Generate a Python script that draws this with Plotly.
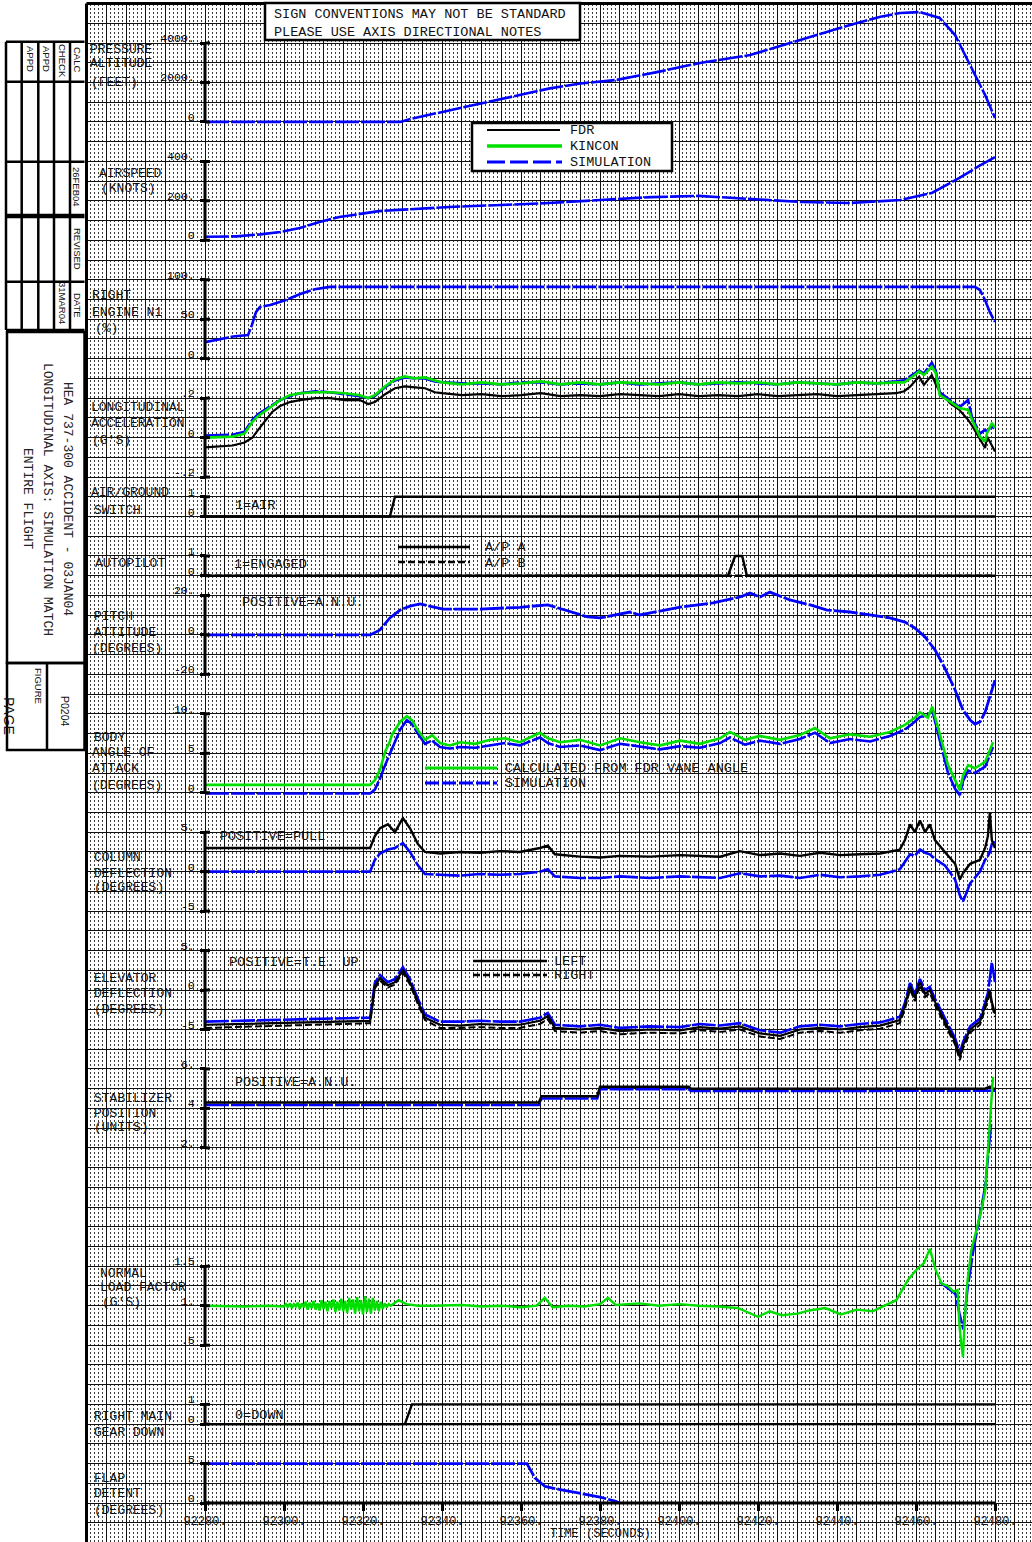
import plotly.graph_objects as go

W, H = 1032, 1542

# ---------------- data (time in seconds, values in engineering units) ----------------
ALT_T = [92280, 92329.4, 92332, 92340, 92350.4, 92360, 92367.3, 92375, 92384.3, 92395, 92405.3,
         92418, 92430.6, 92443.3, 92451, 92456, 92461, 92466, 92469.9, 92473.7, 92477.5, 92480]
ALT_SIM = [0, 0, 150, 500, 970, 1400, 1700, 1950, 2130, 2550, 2990,
           3390, 4150, 4910, 5330, 5520, 5570, 5270, 4400, 2880, 1360, 200]

SPD_T = [92280, 92288, 92294, 92299, 92304, 92309, 92314, 92319, 92324, 92329, 92342, 92355,
         92367, 92380, 92393, 92405, 92418, 92431, 92443, 92456, 92464, 92471, 92476, 92480]
SPD_SIM = [18, 20, 30, 42, 62, 93, 118, 133, 148, 154, 169, 179,
           189, 204, 219, 225, 209, 194, 189, 204, 240, 316, 377, 422]

N1_T = [92280, 92287.1, 92290.9, 92291.9, 92292.9, 92293.9, 92296.5, 92300.3, 92304.1, 92307.8,
        92311.6, 92474.9, 92476.2, 92477.5, 92478.7, 92480]
N1_SIM = [21, 28, 30, 43, 59, 65.5, 68, 74, 82, 88, 91, 91, 87, 74, 59, 46.5]

ACC_T = [92280, 92287, 92290, 92292, 92293.5, 92295, 92297, 92299, 92301.5, 92304,
         92308, 92311.6, 92315.4, 92319.2, 92321.3, 92323, 92325.6, 92328.1, 92330.6, 92333.2,
         92335.7, 92338.2, 92340, 92345, 92350, 92355, 92360, 92365, 92370, 92375,
         92380, 92385, 92390, 92395, 92400, 92405, 92410, 92415, 92420, 92425,
         92430, 92435, 92440, 92445, 92450, 92455, 92457, 92458.5, 92460.8, 92462,
         92464, 92465, 92466, 92468.6, 92471, 92473.2, 92474.2, 92476.2, 92477.5, 92478,
         92479.2, 92480]
ACC_FDR = [-0.05, -0.04, -0.025, 0.0, 0.04, 0.08, 0.13, 0.16, 0.18, 0.19,
           0.20, 0.20, 0.19, 0.19, 0.17, 0.18, 0.22, 0.25, 0.26, 0.255,
           0.25, 0.23, 0.225, 0.215, 0.22, 0.21, 0.215, 0.225, 0.21, 0.215,
           0.21, 0.22, 0.215, 0.21, 0.22, 0.21, 0.215, 0.21, 0.22, 0.21,
           0.215, 0.22, 0.21, 0.215, 0.22, 0.225, 0.235, 0.258, 0.309, 0.267,
           0.317, 0.27, 0.233, 0.175, 0.14, 0.09, 0.06, -0.012, -0.053, 0.005,
           -0.04, -0.071]
ACC_KIN = [0.0, 0.005, 0.02, 0.08, 0.11, 0.13, 0.16, 0.19, 0.215, 0.225,
           0.23, 0.23, 0.225, 0.215, 0.20, 0.215, 0.26, 0.295, 0.31, 0.30,
           0.305, 0.29, 0.28, 0.27, 0.28, 0.27, 0.275, 0.285, 0.27, 0.28,
           0.27, 0.28, 0.275, 0.27, 0.28, 0.27, 0.28, 0.275, 0.28, 0.27,
           0.28, 0.275, 0.27, 0.28, 0.275, 0.28, 0.28, 0.30, 0.335, 0.317,
           0.36, 0.327, 0.216, 0.182, 0.15, 0.14, 0.089, 0.005, -0.02, 0.023,
           0.074, 0.05]
ACC_SIM = [0.01, 0.015, 0.03, 0.09, 0.12, 0.14, 0.165, 0.19, 0.21, 0.225,
           0.235, 0.23, 0.22, 0.21, 0.20, 0.21, 0.255, 0.29, 0.305, 0.30,
           0.30, 0.285, 0.28, 0.275, 0.275, 0.27, 0.28, 0.28, 0.27, 0.275,
           0.27, 0.28, 0.27, 0.275, 0.28, 0.27, 0.275, 0.28, 0.275, 0.27,
           0.28, 0.275, 0.27, 0.28, 0.275, 0.285, 0.29, 0.31, 0.34, 0.325,
           0.38, 0.34, 0.23, 0.19, 0.155, 0.19, 0.10, 0.02, 0.04, 0.03,
           0.06, 0.04]

AG_T = [92280, 92326.8, 92328.1, 92480]
AG_FDR = [0, 0, 1, 1]

APA_T = [92280, 92412.4, 92414.2, 92416.0, 92417.2, 92480]
APA_FDR = [0, 0, 1, 1, 0, 0]
APB_T = [92280, 92480]
APB_FDR = [0, 0]

PITCH_T = [92280, 92321.8, 92324.3, 92326.8, 92329.4, 92331.9, 92334.4, 92340.3, 92349.6, 92359.7,
           92366.8, 92376.9, 92380, 92387.6, 92390.1, 92400.3, 92408.6, 92415.4, 92418, 92420.5,
           92423, 92428.1, 92433.2, 92437.5, 92443.3, 92448.4, 92453.4, 92457.2, 92459.7, 92462.3,
           92464.8, 92467.3, 92469.9, 92471.9, 92473.7, 92474.9, 92476.2, 92477.5, 92478.7, 92480]
PITCH_SIM = [0, 0, 2.5, 8.6, 12.6, 14.6, 15.7, 13.1, 13.1, 14.0,
             15.2, 9.1, 8.6, 11.6, 10.1, 14.1, 16.2, 19.2, 21.2, 19.2,
             21.7, 17.7, 15.2, 12.6, 11.6, 10.1, 8.6, 6.5, 3.5, -1.1,
             -7.6, -16.8, -27.9, -38.1, -43.1, -45.2, -44.1, -39.1, -31.5, -22.9]

AOA_T = [92280, 92321.8, 92323, 92324.3, 92325.6, 92326.8, 92327.3, 92329.4, 92331.1, 92332.4,
         92333.9, 92335.7, 92337.5, 92339.5, 92342, 92344.6, 92348.4, 92352.2, 92355.9, 92359.7,
         92364.8, 92366.8, 92369.9, 92374.9, 92380, 92385.1, 92390.1, 92395.2, 92400.3, 92405.3,
         92410.4, 92412.9, 92416.7, 92420.5, 92425.6, 92430.6, 92434.4, 92438.2, 92443.3, 92448.4,
         92453.4, 92457.2, 92459.7, 92461, 92463, 92464.1, 92466.1, 92468.1, 92469.9, 92471.1,
         92471.9, 92473.2, 92474.9, 92477.5, 92479.5]
AOA_KIN = [1.0, 1.0, 1.6, 2.9, 5.2, 6.5, 7.3, 9.0, 9.7, 9.2,
           7.9, 6.7, 7.3, 6.3, 6.0, 6.4, 6.2, 6.7, 6.9, 6.4,
           7.6, 6.9, 6.4, 6.7, 6.0, 6.9, 6.4, 6.0, 6.6, 6.2,
           6.9, 7.7, 6.7, 7.2, 6.7, 7.3, 8.2, 6.9, 7.4, 7.1,
           7.7, 8.6, 9.5, 10.2, 9.5, 10.9, 7.3, 3.5, 1.6, 0.3,
           2.2, 3.5, 3.1, 3.9, 6.4]
AOA_SIM = [-0.1, -0.1, 0.4, 1.8, 3.5, 5.0, 5.6, 8.0, 9.2, 8.7,
           7.5, 6.2, 6.6, 5.8, 5.6, 5.8, 5.7, 6.0, 6.3, 6.0,
           7.0, 6.3, 5.8, 6.0, 5.4, 6.2, 5.9, 5.5, 5.9, 5.7,
           6.3, 7.0, 6.1, 6.6, 6.2, 6.8, 7.6, 6.3, 6.8, 6.5,
           7.2, 8.0, 9.0, 9.6, 9.8, 10.5, 6.5, 2.5, 0.5, -0.3,
           1.5, 2.8, 2.5, 3.3, 5.8]

COL_T = [92280, 92321.8, 92323.0, 92324.3, 92326.3, 92328.1, 92330.1, 92331.9, 92333.9, 92335.7,
         92339.5, 92344.6, 92349.6, 92354.7, 92359.7, 92364.8, 92366.8, 92368.6, 92374.9, 92380.0,
         92385.1, 92392.7, 92400.3, 92405.3, 92410.4, 92415.4, 92420.5, 92425.6, 92430.6, 92435.7,
         92440.8, 92445.8, 92450.9, 92455.9, 92457.2, 92458.5, 92459.7, 92461.0, 92462.3, 92463.5,
         92464.8, 92467.3, 92469.9, 92471.1, 92471.9, 92473.7, 92476.2, 92477.5, 92478.2, 92478.7,
         92479.2, 92480.0]
COL_FDR = [3.0, 3.0, 4.5, 5.5, 6.0, 5.0, 6.8, 5.5, 3.5, 2.5,
           2.3, 2.5, 2.4, 2.6, 2.5, 3.0, 3.3, 2.2, 1.9, 1.8,
           2.0, 1.9, 2.1, 2.0, 1.9, 2.6, 2.1, 2.3, 2.0, 2.4,
           2.1, 2.2, 2.3, 2.8, 4.0, 6.0, 5.0, 6.5, 5.0, 6.0,
           4.0, 2.5, 1.0, -1.0, -0.2, 1.0, 1.5, 3.0, 4.5, 7.5,
           4.0, 3.0]
COL_SIM = [0.0, 0.0, 1.5, 2.3, 2.8, 3.0, 3.6, 2.5, 0.8, -0.3,
           -0.4, -0.5, -0.3, -0.4, -0.3, 0.0, 0.3, -0.6, -0.8, -0.8,
           -0.6, -0.8, -0.6, -0.7, -0.8, -0.2, -0.6, -0.5, -0.8, -0.4,
           -0.7, -0.6, -0.4, 0.3, 1.2, 2.2, 2.0, 2.8, 2.4, 2.2,
           1.6, 0.8, -1.0, -3.0, -3.8, -1.5, 0.0, 1.5, 2.0, 2.5,
           3.5, 3.8]

ELEV_T = COL_T
ELEV_LEFT = [-4.4, -3.9, 0.5, 1.5, 0.6, 1.0, 2.5, 1.0, -1.5, -3.5,
             -4.4, -4.5, -4.3, -4.4, -4.4, -3.9, -3.3, -4.8, -5.0, -4.8,
             -5.2, -5.0, -5.1, -4.7, -4.9, -4.6, -5.5, -5.8, -5.0, -4.8,
             -5.0, -4.7, -4.5, -3.8, -2.0, 0.5, -1.0, 1.0, -0.5, 0.0,
             -1.5, -4.0, -6.5, -8.5, -7.0, -5.0, -4.0, -2.0, -1.0, 0.0,
             -1.5, -3.0]
ELEV_RIGHT = [-4.8, -4.2, 0.2, 1.2, 0.3, 0.7, 2.2, 0.7, -1.8, -3.8,
              -4.8, -4.8, -4.7, -4.8, -4.8, -4.3, -3.7, -5.2, -5.4, -5.2,
              -5.6, -5.4, -5.5, -5.1, -5.3, -5.0, -5.9, -6.2, -5.4, -5.2,
              -5.4, -5.1, -4.9, -4.2, -2.4, 0.1, -1.4, 0.6, -0.9, -0.4,
              -1.9, -4.4, -6.9, -8.9, -7.4, -5.4, -4.4, -2.4, -1.4, -0.4,
              -1.9, -3.4]
ELEV_SIM = [-4.0, -3.5, 0.9, 1.9, 1.0, 1.4, 2.9, 1.4, -1.1, -3.1,
            -4.0, -4.0, -3.9, -4.0, -4.0, -3.5, -2.9, -4.4, -4.6, -4.4,
            -4.8, -4.6, -4.7, -4.3, -4.5, -4.2, -5.1, -5.4, -4.6, -4.4,
            -4.6, -4.3, -4.1, -3.4, -1.6, 0.9, -0.6, 1.4, 0.0, 0.4,
            -1.1, -3.6, -6.1, -8.0, -6.6, -4.6, -3.6, -1.6, -0.4, 1.5,
            3.5, 1.0]

STAB_T = [92280, 92364.5, 92365.2, 92379.3, 92380, 92402.5, 92403, 92477.5, 92478.7, 92479.5, 92480]
STAB_FDR = [4.3, 4.3, 4.62, 4.62, 5.1, 5.1, 5.0, 5.0, 5.1, 5.0, 5.0]
STAB_SIM = [4.17, 4.17, 4.5, 4.5, 4.98, 4.98, 4.88, 4.88, 4.9, 4.9, 4.9]

NLF_T = [92280, 92290, 92296,
         92300, 92300.5, 92301, 92301.5, 92302, 92302.5, 92303, 92303.5, 92304, 92304.5,
         92305, 92305.5, 92306, 92306.5, 92307, 92307.5, 92308, 92308.5, 92309, 92309.5,
         92310, 92310.5, 92311, 92311.5, 92312, 92312.5, 92313, 92313.5, 92314, 92314.5,
         92315, 92315.5, 92316, 92316.5, 92317, 92317.5, 92318, 92318.5, 92319, 92319.5,
         92320, 92320.5, 92321, 92321.5, 92322, 92322.5, 92323, 92323.5, 92324, 92324.5,
         92325, 92325.5, 92326, 92326.5, 92327,
         92329, 92331, 92334, 92338, 92345, 92350, 92355, 92360, 92364, 92366,
         92368, 92372, 92376, 92380, 92382, 92384, 92390, 92395, 92400, 92405,
         92410, 92415, 92420, 92423, 92426, 92430, 92433, 92437, 92441, 92445,
         92449, 92452, 92455, 92458, 92460, 92462, 92463.5, 92465, 92466.5, 92468,
         92469.5, 92470.5, 92471, 92471.5, 92471.9, 92472.3, 92473, 92474, 92475, 92476.5,
         92477.5, 92478.5, 92479.5]
NLF_KIN = [1.00, 0.99, 1.00,
           0.99, 1.02, 0.98, 1.03, 0.97, 1.02, 0.99, 1.04, 0.96, 1.03,
           0.98, 1.05, 0.95, 1.04, 0.97, 1.06, 0.95, 1.03, 0.94, 1.07,
           0.96, 1.05, 0.93, 1.06, 0.97, 1.08, 0.92, 1.05, 0.94, 1.09,
           0.93, 1.06, 0.91, 1.10, 0.95, 1.08, 0.90, 1.11, 0.93, 1.07,
           0.89, 1.12, 0.92, 1.09, 0.90, 1.10, 0.94, 1.06, 0.93, 1.05,
           0.96, 1.03, 0.98, 1.02, 1.00,
           1.07, 1.02, 1.00, 1.00, 1.01, 0.99, 1.00, 0.98, 1.00, 1.10,
           0.98, 1.00, 0.99, 1.02, 1.10, 1.01, 1.03, 1.00, 1.02, 1.00,
           0.99, 0.97, 0.86, 0.93, 0.88, 0.90, 0.94, 0.97, 0.89, 0.95,
           0.93, 1.00, 1.07, 1.33, 1.45, 1.54, 1.72, 1.45, 1.28, 1.25,
           1.18, 1.20, 0.75, 0.50, 0.35, 0.80, 1.30, 1.70, 1.90, 2.20,
           2.45, 3.20, 3.90]
NLF_SIM_T = [92466, 92468, 92470, 92471, 92472, 92473, 92474.5, 92476, 92477.5, 92479]
NLF_SIM = [1.30, 1.22, 1.15, 0.90, 0.70, 1.20, 1.70, 2.10, 2.50, 3.30]

GEAR_T = [92280, 92330.6, 92332.4, 92480]
GEAR_FDR = [0, 0, 1, 1]

FLAP_T = [92280, 92361.5, 92363.5, 92366.1, 92369.9, 92374.9, 92380, 92383.8, 92385.1]
FLAP_SIM = [5, 5, 3.2, 2.1, 1.7, 1.2, 0.75, 0.25, 0]

TIME_TICKS = [92280, 92300, 92320, 92340, 92360, 92380, 92400, 92420, 92440, 92460, 92480]
TIME_LABELS = [f"{t}." for t in TIME_TICKS]

# panel: axis id, top value, top grid row, bottom value, bottom grid row, tick values, tick labels
PANELS = [
    ("y2", 4000, 0, 0, 4, [0, 2000, 4000], ["0", "2000.", "4000."]),
    ("y3", 400, 6, 0, 10, [0, 200, 400], ["0", "200.", "400."]),
    ("y4", 100, 12, 0, 16, [0, 50, 100], ["0", "50", "100."]),
    ("y5", 0.2, 18, -0.2, 22, [-0.2, 0, 0.2], ["-.2", "0", ".2"]),
    ("y6", 1, 23, 0, 24, [0, 1], ["0", "1"]),
    ("y7", 1, 26, 0, 27, [0, 1], ["0", "1"]),
    ("y8", 20, 28, -20, 32, [-20, 0, 20], ["-20", "0", "20."]),
    ("y9", 10, 34, 0, 38, [0, 5, 10], ["0", "5", "10."]),
    ("y10", 5, 40, -5, 44, [-5, 0, 5], ["-5", "0", "5."]),
    ("y11", 5, 46, -5, 50, [-5, 0, 5], ["-5", "0", "5."]),
    ("y12", 6, 52, 2, 56, [2, 4, 6], ["2.", "4", "6."]),
    ("y13", 1.5, 62, 0.5, 66, [0.5, 1, 1.5], [".5", "1.", "1.5"]),
    ("y14", 1, 69, 0, 70, [0, 1], ["0", "1"]),
    ("y15", 5, 72, 0, 74, [0, 5], ["0", "5"]),
]

# ---------------- geometry of the chart paper ----------------
T0 = 92280.0
PX_PER_S = 3.95
AX_X = 205.0
GRID_X0 = 86.5
CELL = 19.73
GRID_Y0 = 43.0 - 2 * CELL
V_TOP = 2.0
V_BOT = V_TOP - (H - GRID_Y0) / CELL
X_RANGE = [T0 - (AX_X - GRID_X0) / PX_PER_S, T0 + (W - AX_X) / PX_PER_S]

BLUE = "#0000ff"
GREEN = "#00e000"
BLACK = "#000000"
SIMDASH = "24px,2px"
MONO = "Liberation Mono"
SANS = "Liberation Sans"


def px(x):
    return x / W


def py(y):
    return 1 - y / H


fig = go.Figure()
# empty trace so the base grid subplot exists
fig.add_trace(go.Scatter(x=[], y=[], xaxis="x", yaxis="y", showlegend=False, hoverinfo="skip"))


def add(t, v, yax, color, width, dash=None, xax="x"):
    fig.add_trace(go.Scatter(x=t, y=v, xaxis=xax, yaxis=yax, mode="lines", showlegend=False,
                             line=dict(color=color, width=width, dash=dash), hoverinfo="skip"))


add(ALT_T, ALT_SIM, "y2", BLUE, 2.6, SIMDASH)
add(SPD_T, SPD_SIM, "y3", BLUE, 2.6, SIMDASH)
add(N1_T, N1_SIM, "y4", BLUE, 2.6, SIMDASH)
add(ACC_T, ACC_FDR, "y5", BLACK, 2.2)
add(ACC_T, ACC_SIM, "y5", BLUE, 2.6, SIMDASH)
add(ACC_T, ACC_KIN, "y5", GREEN, 2.6)
add(AG_T, AG_FDR, "y6", BLACK, 2.4)
add(APB_T, APB_FDR, "y7", BLACK, 2.4, "7px,3px")
add(APA_T, APA_FDR, "y7", BLACK, 2.4)
add(PITCH_T, PITCH_SIM, "y8", BLUE, 2.8, SIMDASH)
add(AOA_T, AOA_SIM, "y9", BLUE, 2.6, SIMDASH)
add(AOA_T, AOA_KIN, "y9", GREEN, 2.6)
add(COL_T, COL_SIM, "y10", BLUE, 2.6, SIMDASH)
add(COL_T, COL_FDR, "y10", BLACK, 2.4)
add(ELEV_T, ELEV_SIM, "y11", BLUE, 2.6, SIMDASH)
add(ELEV_T, ELEV_RIGHT, "y11", BLACK, 2.0, "7px,3px")
add(ELEV_T, ELEV_LEFT, "y11", BLACK, 2.2)
add(STAB_T, STAB_SIM, "y12", BLUE, 2.6, SIMDASH)
add(STAB_T, STAB_FDR, "y12", BLACK, 2.4)
add(NLF_SIM_T, NLF_SIM, "y13", BLUE, 2.6, SIMDASH)
add(NLF_T, NLF_KIN, "y13", GREEN, 2.4)
add(GEAR_T, GEAR_FDR, "y14", BLACK, 2.4)
add(FLAP_T, FLAP_SIM, "y15", BLUE, 2.8, SIMDASH, xax="x2")

layout = dict(
    width=W, height=H, margin=dict(l=0, r=0, t=0, b=0),
    paper_bgcolor="white", plot_bgcolor="white", showlegend=False,
    xaxis=dict(domain=[px(GRID_X0), 1], range=X_RANGE, tick0=T0, dtick=5,
               showgrid=True, gridcolor="#111111", gridwidth=1, zeroline=False,
               showticklabels=False, ticks="", showline=False, fixedrange=True,
               minor=dict(tick0=T0, dtick=1, showgrid=True, gridcolor="#3c3c3c",
                          griddash="2px,2px", gridwidth=1)),
    yaxis=dict(domain=[0, py(GRID_Y0)], range=[V_BOT, V_TOP], tick0=0, dtick=1,
               showgrid=True, gridcolor="#111111", gridwidth=1, zeroline=False,
               showticklabels=False, ticks="", showline=False, fixedrange=True),
    xaxis2=dict(overlaying="x", anchor="free", position=py(74 * CELL + 43.0),
                range=X_RANGE, tickmode="array", tickvals=TIME_TICKS, ticktext=TIME_LABELS,
                ticks="outside", ticklen=7, tickwidth=3, tickcolor=BLACK,
                showgrid=False, zeroline=False, showline=False, fixedrange=True,
                tickfont=dict(family=MONO, size=12, color="#111")),
)

shapes = []


def hline(x0, x1, y, w=2.5, color=BLACK, dash=None):
    shapes.append(dict(type="line", xref="paper", yref="paper", x0=px(x0), x1=px(x1),
                       y0=py(y), y1=py(y), line=dict(color=color, width=w, dash=dash)))


def vline(x, y0, y1, w=2.5, color=BLACK):
    shapes.append(dict(type="line", xref="paper", yref="paper", x0=px(x), x1=px(x),
                       y0=py(y0), y1=py(y1), line=dict(color=color, width=w)))


for (ax, vt, kt, vb, kb, tv, tt) in PANELS:
    slope = (vt - vb) / (kb - kt)
    rng = [vb + (V_BOT + kb) * slope, vb + (V_TOP + kb) * slope]
    layout["yaxis" + ax[1:]] = dict(
        overlaying="y", anchor="free", position=px(AX_X), side="left", range=rng,
        showgrid=False, zeroline=False, showline=False, fixedrange=True,
        tickmode="array", tickvals=tv, ticktext=tt, ticks="outside", ticklen=5,
        tickwidth=3, tickcolor=BLACK, ticklabelshift=-5, ticklabelstandoff=3,
        tickfont=dict(family=MONO, size=11.5, color="#000"))
    # axis spine between the end ticks and the inner half of each tick
    shapes.append(dict(type="line", xref="paper", yref=ax, x0=px(AX_X), x1=px(AX_X),
                       y0=min(tv), y1=max(tv), line=dict(color=BLACK, width=3)))
    for v in tv:
        shapes.append(dict(type="line", xref="paper", yref=ax, x0=px(AX_X), x1=px(AX_X + 5),
                           y0=v, y1=v, line=dict(color=BLACK, width=3)))

# baselines / time axis
for ax in ("y6", "y14"):
    shapes.append(dict(type="line", xref="x", yref=ax, x0=92280, x1=92480, y0=0, y1=0,
                       line=dict(color=BLACK, width=2.4)))
shapes.append(dict(type="line", xref="x", yref="y15", x0=92280, x1=92480, y0=0, y1=0,
                   line=dict(color=BLACK, width=3)))

# chart paper border
vline(GRID_X0, GRID_Y0, H, w=3)
hline(GRID_X0, W, GRID_Y0, w=3)

# title block on the left
for y in (41.7, 81.7, 161.7, 281.7, 330):
    hline(6, 84.5, y)
hline(6, 84.5, 216, w=4.5)
for x in (6, 21.7, 38.3, 54, 70):
    vline(x, 41.7, 330)
shapes.append(dict(type="rect", xref="paper", yref="paper", x0=px(7), x1=px(84.5),
                   y0=py(332), y1=py(663), line=dict(color=BLACK, width=2.5)))
shapes.append(dict(type="rect", xref="paper", yref="paper", x0=px(7), x1=px(84.5),
                   y0=py(663), y1=py(750), line=dict(color=BLACK, width=2.5)))
vline(47, 663, 750)

# boxes
shapes.append(dict(type="rect", xref="paper", yref="paper", x0=px(265), x1=px(580),
                   y0=py(3), y1=py(40), fillcolor="white", line=dict(color=BLACK, width=2.5)))
shapes.append(dict(type="rect", xref="paper", yref="paper", x0=px(472), x1=px(672),
                   y0=py(123), y1=py(171), fillcolor="white", line=dict(color=BLACK, width=2.5)))

# legend samples
hline(487, 560, 130, w=2.2)
hline(487, 562, 146, w=3.5, color=GREEN)
hline(487, 562, 162, w=3, color=BLUE, dash="18px,5px")
hline(398, 470, 547, w=2.5)
hline(398, 470, 562, w=2.5, dash="7px,3px")
hline(425, 497, 768, w=3, color=GREEN)
hline(425, 497, 783, w=3, color=BLUE, dash="14px,3px")
hline(473, 547, 961, w=2.5)
hline(473, 547, 975, w=2.5, dash="7px,3px")

annotations = []


def text(s, x, y, size=13.5, family=MONO, anchor="left", angle=0, color="#111"):
    annotations.append(dict(text=s, x=px(x), y=py(y), xref="paper", yref="paper",
                            xanchor=anchor, yanchor="middle", showarrow=False, textangle=angle,
                            font=dict(family=family, size=size, color=color)))


LABELS = [
    ("PRESSURE", 88, 50), ("ALTITUDE", 88, 64), ("(FEET)", 89, 82),
    ("AIRSPEED", 97, 173), ("(KNOTS)", 99, 188),
    ("RIGHT", 90, 295), ("ENGINE N1", 90, 313), ("(%)", 93, 328),
    ("LONGITUDINAL", 89, 408), ("ACCELERATION", 89, 423), ("(G'S)", 90, 440),
    ("AIR/GROUND", 89, 493), ("SWITCH", 92, 511),
    ("AUTOPILOT", 93, 563),
    ("PITCH", 92, 616), ("ATTITUDE", 92, 632), ("(DEGREES)", 90, 648),
    ("BODY", 92, 737), ("ANGLE OF", 90, 752), ("ATTACK", 90, 768), ("(DEGREES)", 90, 785),
    ("COLUMN", 92, 857), ("DEFLECTION", 92, 873), ("(DEGREES)", 92, 888),
    ("ELEVATOR", 92, 978), ("DEFLECTION", 92, 993), ("(DEGREES)", 92, 1009),
    ("STABILIZER", 92, 1098), ("POSITION", 92, 1113), ("(UNITS)", 92, 1127),
    ("NORMAL", 98, 1273), ("LOAD FACTOR", 98, 1287), ("(G'S)", 100, 1302),
    ("RIGHT MAIN", 92, 1416), ("GEAR DOWN", 92, 1432),
    ("FLAP", 92, 1478), ("DETENT", 92, 1493), ("(DEGREES)", 92, 1510),
]
for s, x, y in LABELS:
    text(s, x, y, size=13)

NOTES = [
    ("1=AIR", 233, 506), ("1=ENGAGED", 232, 564), ("POSITIVE=A.N.U.", 240, 603),
    ("POSITIVE=PULL", 218, 837), ("POSITIVE=T.E. UP", 227, 962),
    ("POSITIVE=A.N.U.", 233, 1082), ("0=DOWN", 233, 1415),
    ("A/P A", 483, 547), ("A/P B", 483, 563),
    ("CALCULATED FROM FDR VANE ANGLE", 503, 768), ("SIMULATION", 503, 783),
    ("LEFT", 552, 961), ("RIGHT", 552, 975),
    ("FDR", 568, 130), ("KINCON", 568, 146), ("SIMULATION", 568, 163),
    ("SIGN CONVENTIONS MAY NOT BE STANDARD", 272, 15),
    ("PLEASE USE AXIS DIRECTIONAL NOTES", 272, 32),
]
for s, x, y in NOTES:
    text(s, x, y)

text("TIME (SECONDS)", 600, 1534, size=12, anchor="center")

# title block text (rotated)
for s, x, y in [("CALC", 77, 59), ("CHECK", 62, 61), ("APPD", 46, 59), ("APPD", 30, 59),
                ("26FEB04", 77, 187), ("REVISED", 77, 249), ("31MAR04", 62, 303),
                ("DATE", 77, 305), ("FIGURE", 39, 686)]:
    text(s, x, y, size=9.5, family=SANS, anchor="center", angle=90)
text("P0204", 65, 711, size=10.5, family=SANS, anchor="center", angle=90)
text("HEA 737-300 ACCIDENT - 03JAN04", 67, 499, size=13, anchor="center", angle=90, color="#222")
text("LONGITUDINAL AXIS: SIMULATION MATCH", 47, 499, size=13, anchor="center", angle=90, color="#222")
text("ENTIRE FLIGHT", 27, 499, size=13, anchor="center", angle=90, color="#222")
text("PAGE", 9, 716, size=14, family=SANS, anchor="center", angle=90)

layout["shapes"] = shapes
layout["annotations"] = annotations
fig.update_layout(**layout)
fig.write_html("out.html", config={"displayModeBar": False},
               post_script="document.body.style.margin='0px';")
